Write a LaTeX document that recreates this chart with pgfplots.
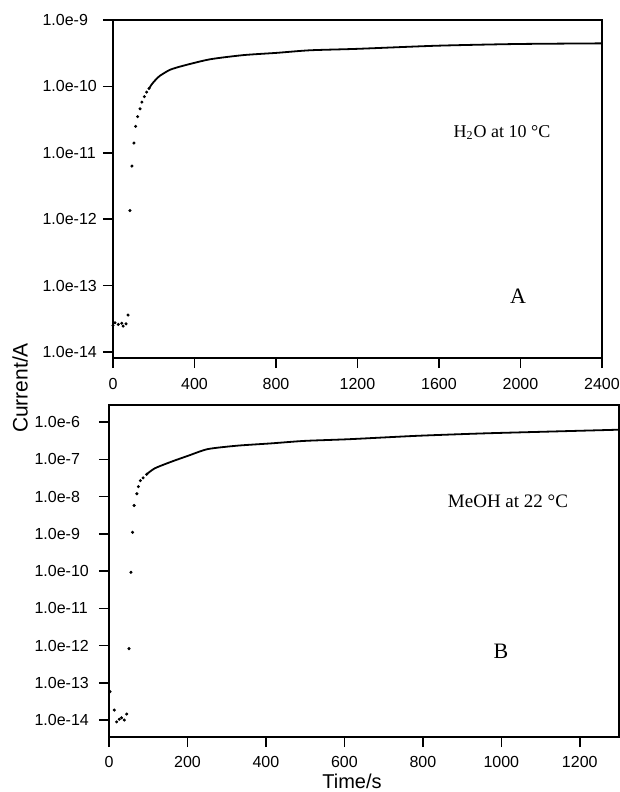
\documentclass[border=0pt]{standalone}
\usepackage{fontspec}
\setmainfont{Liberation Serif}
\setsansfont{Liberation Sans}
\usepackage{pgfplots}
\pgfplotsset{compat=1.18}

\pgfplotsset{
  every axis/.append style={
    scale only axis,
    axis line style={line width=0.7pt},
    yminorticks=false, xminorticks=false,
    ticklabel style={font=\sffamily\fontsize{8}{9}\selectfont, inner sep=0pt},
    /pgf/number format/assume math mode=true,
    /pgf/number format/set thousands separator={},
  },
  mydots/.style={only marks, mark=*, mark size=0.55pt, black},
  mycurve/.style={black, line width=0.9pt, no marks, smooth, tension=0.4},
}

\begin{document}
\begin{tikzpicture}
\useasboundingbox (0,0) rectangle (310pt,-396pt);

% panel A
\begin{axis}[ymode=log,
  at={(56.5pt,-179pt)}, anchor=south west,
  width=244.5pt, height=169pt,
  xtick pos=bottom, ytick pos=left,
  xtick align=outside, ytick align=outside,
  major tick length=5pt,
  major tick style={draw=black, line width=0.8pt},
  xmin=0, xmax=2400, xtick={0,400,...,2400},
  ymin=8.1e-15, ymax=1e-9,
  ytick={1e-14,1e-13,1e-12,1e-11,1e-10,1e-9},
  yticklabels={1.0e-14,1.0e-13,1.0e-12,1.0e-11,1.0e-10,1.0e-9},
  yticklabel style={anchor=east, text width=30pt, align=left},
  xticklabel style={yshift=-5pt},
]
\addplot[mydots] coordinates {(0,2.5e-14) (10,2.75e-14) (26,2.6e-14) (43,2.7e-14) (50,2.45e-14) (64,2.65e-14) (74,3.6e-14)
  (83,1.35e-12) (93,6.3e-12) (103,1.4e-11) (111,2.5e-11) (121,3.5e-11) (133,4.6e-11) (142,5.8e-11)
  (154,7e-11) (165,8.2e-11) (177,9.3e-11)};
\addplot[mycurve] coordinates {(177,9.3e-11) (188,1.05e-10) (200,1.17e-10) (214,1.3e-10) (231,1.45e-10)
  (280,1.78e-10) (345,2.05e-10) (476,2.56e-10) (640,2.96e-10) (803,3.2e-10) (967,3.5e-10)
  (1200,3.68e-10) (1589,4.1e-10) (1981,4.35e-10) (2400,4.45e-10)};
\node[font=\fontsize{9}{11}\selectfont] at (axis cs:1909,2.05e-11) {H\textsubscript{2}O at 10 °C};
\node[font=\fontsize{11}{13}\selectfont] at (axis cs:1988,6.8e-14) {A};
\end{axis}

% panel B
\begin{axis}[ymode=log,
  at={(54.5pt,-368.5pt)}, anchor=south west,
  width=255pt, height=166pt,
  xtick pos=bottom, ytick pos=left,
  xtick align=outside, ytick align=outside,
  major tick length=5pt,
  major tick style={draw=black, line width=0.8pt},
  xmin=0, xmax=1300, xtick={0,200,...,1200},
  ymin=3.5e-15, ymax=2.9e-6,
  ytick={1e-14,1e-13,1e-12,1e-11,1e-10,1e-9,1e-8,1e-7,1e-6},
  yticklabels={1.0e-14,1.0e-13,1.0e-12,1.0e-11,1.0e-10,1.0e-9,1.0e-8,1.0e-7,1.0e-6},
  yticklabel style={anchor=east, text width=32pt, align=left},
  xticklabel style={yshift=-4.5pt},
]
\addplot[mydots] coordinates {(2.5,5.8e-14) (13.5,1.85e-14) (19.5,8.9e-15) (26,1.05e-14) (32,1.15e-14) (39,1e-14)
  (45,1.45e-14) (51,8.3e-13) (56,9.3e-11) (60,1.1e-9) (64,5.8e-9) (71,1.2e-8) (75,1.86e-8)
  (80,2.7e-8) (87,3.2e-8) (96,4e-8)};
\addplot[mycurve] coordinates {(96,4e-8) (117,5.8e-8) (159,8.7e-8) (202,1.26e-7) (252,1.9e-7) (328,2.35e-7)
  (413,2.7e-7) (498,3.15e-7) (612,3.5e-7) (782,4.3e-7) (951,5.0e-7) (1121,5.6e-7) (1300,6.3e-7)};
\node[font=\fontsize{9.5}{11}\selectfont] at (axis cs:1017,7.4e-9) {MeOH at 22 °C};
\node[font=\fontsize{11}{13}\selectfont] at (axis cs:999,6.8e-13) {B};
\end{axis}

\node[rotate=90, font=\sffamily\fontsize{10.5}{12}\selectfont] at (10pt,-194pt) {Current/A};
\node[anchor=base, font=\sffamily\fontsize{10}{12}\selectfont] at (176pt,-394pt) {Time/s};
\end{tikzpicture}
\end{document}
